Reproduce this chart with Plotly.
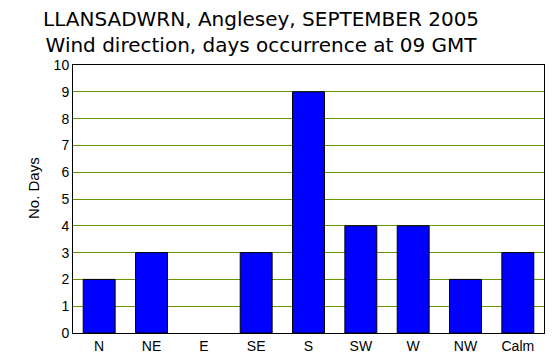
import plotly.graph_objects as go

categories = ["N", "NE", "E", "SE", "S", "SW", "W", "NW", "Calm"]
days = [2, 3, 0, 3, 9, 4, 4, 2, 3]
y_ticks = list(range(0, 11))

fig = go.Figure()
fig.add_trace(go.Bar(
    x=categories, y=days,
    marker=dict(color="#0000FF",
                line=dict(color="black", width=[1 if d > 0 else 0 for d in days])),
    width=0.61,
))

fig.update_layout(
    width=559, height=363,
    margin=dict(l=73, r=15, t=65, b=30, autoexpand=False),
    paper_bgcolor="white", plot_bgcolor="white",
    showlegend=False,
    font=dict(family="Liberation Sans, Arial, sans-serif", color="black", size=14),
    xaxis=dict(
        type="category", showline=True, linecolor="black", linewidth=1, mirror=True,
        ticks="", tickfont=dict(size=14), showgrid=False, automargin=False,
        ticklabelstandoff=0,
    ),
    yaxis=dict(
        range=[0, 10], tickvals=y_ticks, showline=True, linecolor="black", linewidth=1,
        mirror=True, ticks="", tickfont=dict(size=14), automargin=False,
        gridcolor="#669900", gridwidth=1, zeroline=False,
    ),
    annotations=[
        dict(text="LLANSADWRN, Anglesey, SEPTEMBER 2005<br>Wind direction, days occurrence at 09 GMT",
             xref="paper", yref="paper", x=(261-73)/471, y=1, yanchor="bottom", yshift=6,
             xanchor="center", showarrow=False, align="center",
             font=dict(size=20, color="black", family="DejaVu Sans, sans-serif")),
        dict(text="No. Days", textangle=-90, xref="paper", yref="paper",
             x=(33-73)/471, y=(333-188)/268, xanchor="center", yanchor="middle",
             showarrow=False, font=dict(size=15, color="black")),
    ],
)

fig.write_html("out.html", post_script="document.body.style.margin='0';",
               config={"displayModeBar": False})
